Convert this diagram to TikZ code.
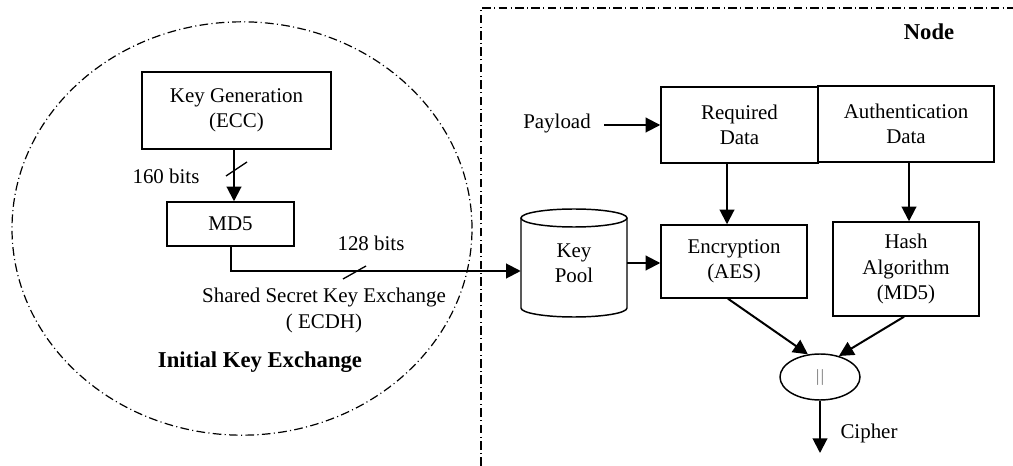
\documentclass[tikz,border=0pt]{standalone}
\usepackage{fontspec}
\setmainfont{Liberation Serif}
\usetikzlibrary{arrows.meta,calc,shapes.geometric}
\begin{document}
\begin{tikzpicture}[x=0.75pt,y=-0.75pt,
  txt/.style={font=\fontsize{15.7}{18.8}\selectfont, align=center, inner sep=0pt},
  boldtxt/.style={font=\fontsize{17}{20}\selectfont\bfseries, inner sep=0pt},
  box/.style={draw, line width=1.1pt, rectangle, inner sep=0pt, align=center, font=\fontsize{15.7}{18.8}\selectfont},
  arr/.style={line width=1.5pt, -{Triangle[length=11pt,width=11pt]}},
  dashdot/.style={line width=0.9pt, dash pattern=on 6.5pt off 2.5pt on 0.8pt off 2.5pt},
  slash/.style={line width=1pt}]
\useasboundingbox (0,0) rectangle (1013,466);

% region outlines
\draw[dashdot] (242,228.5) ellipse [x radius=172.5pt, y radius=155pt];
\draw[dashdot] (481,466) -- (481,8) -- (1013,8);

% left nodes
\node[box, minimum width=141.75pt, minimum height=57.75pt] (kg) at (236.5,110.5) {Key Generation\\(ECC)};
\node[box, minimum width=95.25pt, minimum height=33pt] (md5) at (230.5,224) {MD5};
\node[txt] (b160) at (166,176) {160 bits};
\node[txt] (b128) at (371,243) {128 bits};
\node[txt] (ecdh) at (324,310.5) {Shared Secret Key Exchange\\( ECDH)};
\node[boldtxt] (ike) at (260,362) {Initial Key Exchange};

% right nodes
\node[boldtxt] (nodelbl) at (929,32) {Node};
\node[txt] (payload) at (557,124) {Payload};
\node[box, minimum width=117.75pt, minimum height=57pt] (rd) at (739.5,125) {Required\\Data};
\node[box, minimum width=132pt, minimum height=57pt] (ad) at (906,124) {Authentication\\Data};
\node[box, minimum width=109.5pt, minimum height=54.75pt] (enc) at (734,261.5) {Encryption\\(AES)};
\node[box, minimum width=109.5pt, minimum height=70.5pt] (hash) at (906,269) {Hash\\Algorithm\\(MD5)};
\node[txt] (cipher) at (869,433) {Cipher};

% key pool cylinder
\node[minimum width=79.5pt, minimum height=81pt, inner sep=0pt, txt] (kp) at (574,263) {Key\\Pool};
\draw[line width=1.1pt] (574,218) ellipse [x radius=39.75pt, y radius=6.75pt];
\draw[line width=1.1pt] (521,218) -- (521,308) arc[start angle=180, end angle=360, x radius=39.75pt, y radius=6.75pt] -- (627,218);

% concatenation
\node[draw, line width=1.1pt, ellipse, minimum width=60pt, minimum height=34.5pt, inner sep=0pt,
      font=\fontsize{12}{13}\selectfont\sffamily, text=black!75] (or) at (820,377) {||};
\coordinate (cend) at (820,453);
\coordinate (payend) at (604,125);

% connectors
\draw[arr] (kg.south -| 234,0) -- (md5.north -| 234,0);
\draw[slash] (226,176) -- (247,162);
\draw[arr] (md5.south) |- ([yshift=-6pt]kp.west);
\draw[slash] (343,279) -- (366,266);
\draw[arr] (payend) -- (payend -| rd.west);
\draw[arr] (kp.east) -- (kp.east -| enc.west);
\draw[arr] (rd.south -| 727,0) -- (enc.north -| 727,0);
\draw[arr] (ad.south -| 909,0) -- (hash.north -| 909,0);
\draw[arr] (enc.south -| 728,0) -- (or.118);
\draw[arr] (hash.south -| 904,0) -- (or.48);
\draw[arr] (or.south) -- (cend);
\end{tikzpicture}
\end{document}
